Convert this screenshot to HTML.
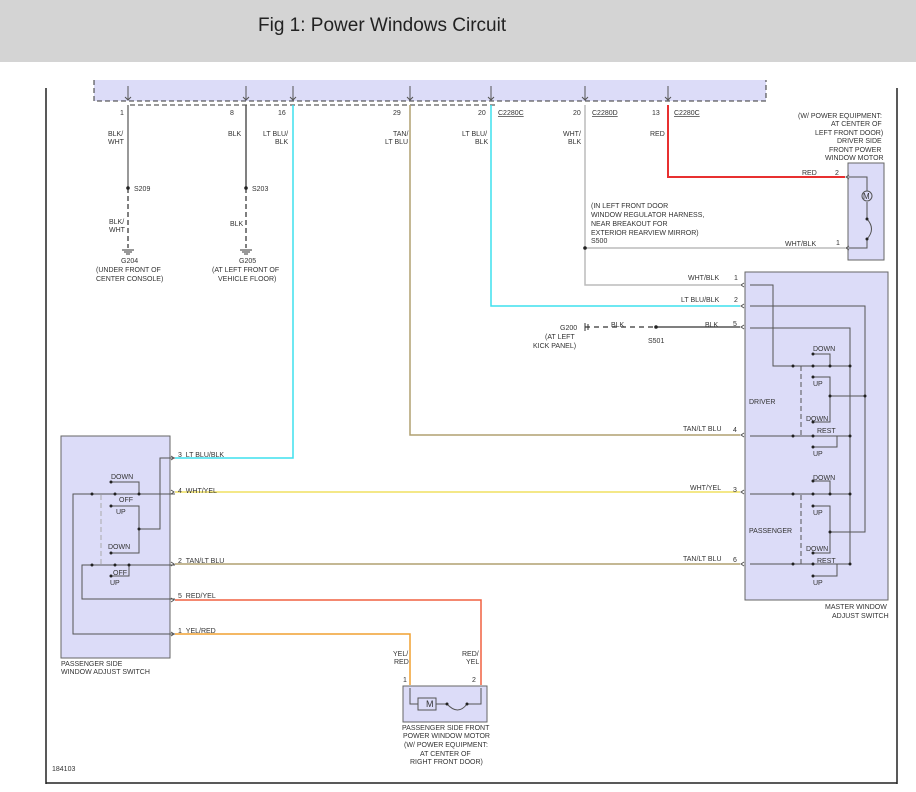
<!DOCTYPE html>
<html><head><style>
body{margin:0;width:916px;height:792px;background:#fff;overflow:hidden;font-family:"Liberation Sans",sans-serif}
#hdr{position:absolute;left:0;top:0;width:916px;height:62px;background:#d4d4d4}
#hdr span{position:absolute;left:258px;top:15px;font-size:19px;color:#222}
svg{position:absolute;left:0;top:0}
text{font-family:"Liberation Sans",sans-serif;font-size:7px;fill:#333}
</style></head><body>
<div id="hdr"><span>Fig 1: Power Windows Circuit</span></div>
<svg width="916" height="792" viewBox="0 0 916 792">
<g stroke="#222" stroke-width="1.5" fill="none">
<line x1="46" y1="88" x2="46" y2="784"/><line x1="897" y1="88" x2="897" y2="784"/><line x1="46" y1="783" x2="897" y2="783"/>
</g>
<rect x="94" y="80" width="672" height="21" fill="#dcdcf8"/>
<path d="M94 80V101H766V80" fill="none" stroke="#333" stroke-dasharray="5,3"/>
<line x1="130" y1="105" x2="495" y2="105" stroke="#333" stroke-dasharray="5,3"/>
<g stroke="#555" fill="none">
<path d="M128 86v14m-3-3l3 3 3-3M246 86v14m-3-3l3 3 3-3M293 86v14m-3-3l3 3 3-3M410 86v14m-3-3l3 3 3-3M491 86v14m-3-3l3 3 3-3M585 86v14m-3-3l3 3 3-3M668 86v14m-3-3l3 3 3-3"/>
</g>
<g fill="none" stroke-width="1.5">
<path d="M128 105V188" stroke="#777"/><path d="M128 188V248" stroke="#555" stroke-dasharray="5,3"/>
<path d="M246 105V188" stroke="#555"/><path d="M246 188V248" stroke="#555" stroke-dasharray="5,3"/>
<path d="M293 105V458H175" stroke="#3ee0ee"/>
<path d="M410 105V435H740" stroke="#b0a070"/>
<path d="M491 105V306H740" stroke="#3ee0ee"/>
<path d="M585 105V285H740M585 248H845" stroke="#bbb"/>
<path d="M668 105V177H845" stroke="#e83030" stroke-width="2"/>
<path d="M585 327H656" stroke="#555" stroke-dasharray="5,4"/><path d="M656 327H740" stroke="#555"/>
<path d="M175 492H740" stroke="#f0e060"/>
<path d="M175 564H740" stroke="#b0a070"/>
<path d="M175 600H481V685" stroke="#f06040"/>
<path d="M175 634H410V685" stroke="#f0a030"/>
</g>
<g fill="#222"><circle cx="128" cy="188" r="1.8"/><circle cx="246" cy="188" r="1.8"/><circle cx="585" cy="248" r="1.8"/><circle cx="656" cy="327" r="1.8"/></g>
<g stroke="#333" fill="none"><path d="M122 250h12M124 252h8M126 254h4M240 250h12M242 252h8M244 254h4M585 323v8M588 324v6"/></g>
<rect x="61" y="436" width="109" height="222" fill="#dcdcf8" stroke="#666"/>
<rect x="745" y="272" width="143" height="328" fill="#dcdcf8" stroke="#666"/>
<rect x="848" y="163" width="36" height="97" fill="#dcdcf8" stroke="#666"/>
<rect x="403" y="686" width="84" height="36" fill="#dcdcf8" stroke="#666"/>
<g stroke="#555" fill="none">
<path d="M744 283l-3 2 3 2M744 304l-3 2 3 2M744 325l-3 2 3 2M744 433l-3 2 3 2M744 490l-3 2 3 2M744 562l-3 2 3 2M849 175l-3 2 3 2M849 246l-3 2 3 2M171 456l3 2-3 2M171 490l3 2-3 2M171 562l3 2-3 2M171 598l3 2-3 2M171 632l3 2-3 2"/>
<!-- master internals -->
<path d="M750 285H773V366H850M750 306H865V532H830M865 396H830M750 328H850V565"/>
<path d="M813 354H830V366M813 377H830V422H813M750 436H850M837 436V447H813"/>
<path d="M750 494H850M813 481H830V494M813 506H830V553H813M750 564H850M837 564V576H813"/>
<path d="M801 366V436M801 495V564" stroke-dasharray="5,3"/>
<!-- driver motor -->
<path d="M849 177H867V191M867 202V219M867 219Q876 229 867 239V248H849"/>
<circle cx="867" cy="196" r="5"/>
<!-- passenger switch internals -->
<path d="M175 458H160V529H139M111 506H139V553H111M111 482H139V494M175 494H73V634H175M175 565H82V599H175M129 565V576H111"/>
<path d="M101 495V565" stroke="#aaa" stroke-dasharray="5,3"/>
<!-- pass motor -->
<path d="M410 688V704H418M436 704H447M447 704Q458 716 467 704H481V688"/>
<rect x="418" y="698" width="18" height="12"/>
</g>
<g fill="#222"><circle cx="867" cy="219" r="1.5"/><circle cx="867" cy="239" r="1.5"/><circle cx="447" cy="704" r="1.5"/><circle cx="467" cy="704" r="1.5"/>
<circle cx="793" cy="366" r="1.5"/><circle cx="813" cy="366" r="1.5"/><circle cx="830" cy="366" r="1.5"/><circle cx="850" cy="366" r="1.5"/><circle cx="813" cy="354" r="1.5"/><circle cx="813" cy="377" r="1.5"/><circle cx="830" cy="396" r="1.5"/><circle cx="865" cy="396" r="1.5"/><circle cx="813" cy="422" r="1.5"/>
<circle cx="793" cy="436" r="1.5"/><circle cx="813" cy="436" r="1.5"/><circle cx="850" cy="436" r="1.5"/><circle cx="813" cy="447" r="1.5"/>
<circle cx="793" cy="494" r="1.5"/><circle cx="813" cy="494" r="1.5"/><circle cx="830" cy="494" r="1.5"/><circle cx="850" cy="494" r="1.5"/><circle cx="813" cy="481" r="1.5"/><circle cx="813" cy="506" r="1.5"/><circle cx="830" cy="532" r="1.5"/><circle cx="813" cy="553" r="1.5"/>
<circle cx="793" cy="564" r="1.5"/><circle cx="813" cy="564" r="1.5"/><circle cx="850" cy="564" r="1.5"/><circle cx="813" cy="576" r="1.5"/>
<circle cx="92" cy="494" r="1.5"/><circle cx="115" cy="494" r="1.5"/><circle cx="139" cy="494" r="1.5"/><circle cx="111" cy="482" r="1.5"/><circle cx="111" cy="506" r="1.5"/><circle cx="139" cy="529" r="1.5"/><circle cx="111" cy="553" r="1.5"/>
<circle cx="92" cy="565" r="1.5"/><circle cx="115" cy="565" r="1.5"/><circle cx="129" cy="565" r="1.5"/><circle cx="111" cy="576" r="1.5"/>
</g>
<text x="426" y="707" style="font-size:9px">M</text><text x="863" y="199" style="font-size:8px">M</text>
<text x="120" y="115">1</text><text x="230" y="115">8</text><text x="278" y="115">16</text><text x="393" y="115">29</text><text x="478" y="115">20</text><text x="498" y="115" text-decoration="underline">C2280C</text><text x="573" y="115">20</text><text x="592" y="115" text-decoration="underline">C2280D</text><text x="652" y="115">13</text><text x="674" y="115" text-decoration="underline">C2280C</text>
<text x="108" y="136">BLK/</text><text x="108" y="144">WHT</text><text x="228" y="136">BLK</text><text x="263" y="136">LT BLU/</text><text x="275" y="144">BLK</text>
<text x="393" y="136">TAN/</text><text x="385" y="144">LT BLU</text><text x="462" y="136">LT BLU/</text><text x="475" y="144">BLK</text><text x="563" y="136">WHT/</text><text x="568" y="144">BLK</text><text x="650" y="136">RED</text>
<text x="134" y="191">S209</text><text x="252" y="191">S203</text>
<text x="109" y="224">BLK/</text><text x="109" y="232">WHT</text><text x="230" y="226">BLK</text>
<text x="121" y="263">G204</text><text x="96" y="272">(UNDER FRONT OF</text><text x="96" y="281">CENTER CONSOLE)</text>
<text x="239" y="263">G205</text><text x="212" y="272">(AT LEFT FRONT OF</text><text x="218" y="281">VEHICLE FLOOR)</text>
<text x="798" y="118">(W/ POWER EQUIPMENT:</text><text x="831" y="126">AT CENTER OF</text><text x="815" y="135">LEFT FRONT DOOR)</text><text x="837" y="143">DRIVER SIDE</text><text x="829" y="152">FRONT POWER</text><text x="825" y="160">WINDOW MOTOR</text>
<text x="802" y="175">RED</text><text x="835" y="175">2</text><text x="785" y="246">WHT/BLK</text><text x="836" y="245">1</text>
<text x="591" y="208">(IN LEFT FRONT DOOR</text><text x="591" y="217">WINDOW REGULATOR HARNESS,</text><text x="591" y="226">NEAR BREAKOUT FOR</text><text x="591" y="235">EXTERIOR REARVIEW MIRROR)</text><text x="591" y="243">S500</text>
<text x="688" y="280">WHT/BLK</text><text x="734" y="280">1</text><text x="681" y="302">LT BLU/BLK</text><text x="734" y="302">2</text>
<text x="560" y="330">G200</text><text x="611" y="327">BLK</text><text x="705" y="327">BLK</text><text x="733" y="326">5</text><text x="545" y="339">(AT LEFT</text><text x="533" y="348">KICK PANEL)</text><text x="648" y="343">S501</text>
<text x="683" y="431">TAN/LT BLU</text><text x="733" y="432">4</text><text x="690" y="490">WHT/YEL</text><text x="733" y="492">3</text><text x="683" y="561">TAN/LT BLU</text><text x="733" y="562">6</text>
<text x="813" y="351">DOWN</text><text x="813" y="386">UP</text><text x="749" y="404">DRIVER</text><text x="806" y="421">DOWN</text><text x="817" y="433">REST</text><text x="813" y="456">UP</text>
<text x="813" y="480">DOWN</text><text x="813" y="515">UP</text><text x="749" y="533">PASSENGER</text><text x="806" y="551">DOWN</text><text x="817" y="563">REST</text><text x="813" y="585">UP</text>
<text x="825" y="609">MASTER WINDOW</text><text x="832" y="618">ADJUST SWITCH</text>
<text x="178" y="457">3 &#160;LT BLU/BLK</text><text x="178" y="493">4 &#160;WHT/YEL</text><text x="178" y="563">2 &#160;TAN/LT BLU</text><text x="178" y="598">5 &#160;RED/YEL</text><text x="178" y="633">1 &#160;YEL/RED</text>
<text x="111" y="479">DOWN</text><text x="119" y="502">OFF</text><text x="116" y="514">UP</text><text x="108" y="549">DOWN</text><text x="113" y="575">OFF</text><text x="110" y="585">UP</text>
<text x="61" y="666">PASSENGER SIDE</text><text x="61" y="674">WINDOW ADJUST SWITCH</text>
<text x="393" y="656">YEL/</text><text x="394" y="664">RED</text><text x="462" y="656">RED/</text><text x="466" y="664">YEL</text><text x="403" y="682">1</text><text x="472" y="682">2</text>
<text x="402" y="730">PASSENGER SIDE FRONT</text><text x="403" y="738">POWER WINDOW MOTOR</text><text x="404" y="747">(W/ POWER EQUIPMENT:</text><text x="420" y="756">AT CENTER OF</text><text x="410" y="764">RIGHT FRONT DOOR)</text>
<text x="52" y="771">184103</text>
</svg>
</body></html>
